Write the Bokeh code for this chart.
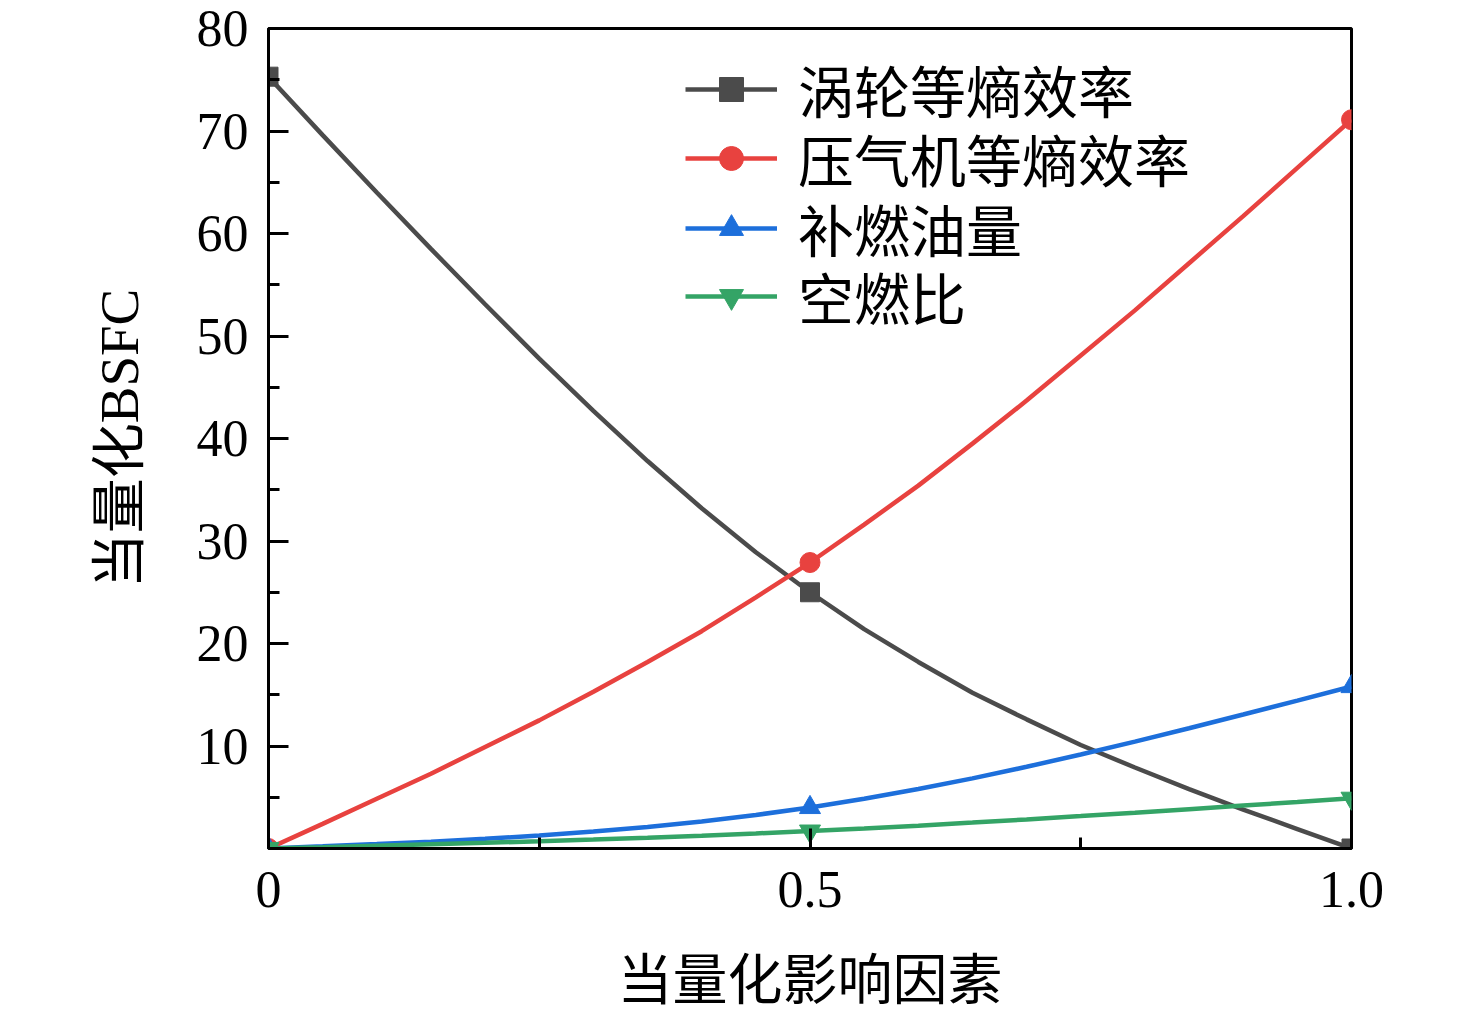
from bokeh.plotting import figure
from bokeh.models import Range1d, FixedTicker, Legend, LegendItem
from bokeh.embed import file_html
from bokeh.resources import INLINE

# ---- data ----
series_names = ["涡轮等熵效率", "压气机等熵效率", "补燃油量", "空燃比"]
x_curve = [0.0, 0.05, 0.1, 0.15, 0.2, 0.25, 0.3, 0.35, 0.4, 0.45, 0.5,
           0.55, 0.6, 0.65, 0.7, 0.75, 0.8, 0.85, 0.9, 0.95, 1.0]
turbine_curve = [75.3, 69.6, 64.0, 58.5, 53.1, 47.8, 42.7, 37.8, 33.2, 28.9, 25.0,
                 21.4, 18.2, 15.2, 12.6, 10.1, 7.9, 5.8, 3.8, 1.9, 0.0]
compressor_curve = [0.0, 2.4, 4.85, 7.3, 9.9, 12.5, 15.3, 18.2, 21.2, 24.5, 27.9,
                    31.6, 35.4, 39.5, 43.7, 48.1, 52.5, 57.1, 61.7, 66.4, 71.1]
fuel_curve = [0.0, 0.21, 0.43, 0.67, 0.94, 1.27, 1.65, 2.1, 2.64, 3.27, 4.0,
              4.85, 5.8, 6.84, 7.97, 9.17, 10.43, 11.73, 13.07, 14.43, 15.8]
afr_curve = [0.0, 0.13, 0.27, 0.41, 0.55, 0.71, 0.88, 1.06, 1.25, 1.47, 1.7,
             1.96, 2.23, 2.53, 2.84, 3.16, 3.49, 3.84, 4.19, 4.54, 4.9]

x_marks = [0.0, 0.5, 1.0]
turbine_marks = [75.3, 25.0, 0.0]
compressor_marks = [0.0, 27.9, 71.1]
fuel_marks = [0.0, 4.0, 15.8]
afr_marks = [0.0, 1.7, 4.9]

x_ticks = [0.0, 0.5, 1.0]
x_tick_labels = ["0", "0.5", "1.0"]
x_minor_ticks = [0.25, 0.75]
y_ticks = [10, 20, 30, 40, 50, 60, 70, 80]
y_minor_ticks = [5, 15, 25, 35, 45, 55, 65, 75]

x_title = "当量化影响因素"
y_title = "当量化BSFC"

colors = ["#4b4b4b", "#e8423f", "#1d6fdb", "#34a466"]
markers = ["square", "circle", "triangle", "inverted_triangle"]
marker_sizes = [19, 20, 21, 21]
legend_rows_y = [719, 650, 580, 512]

FONT = "'Liberation Serif', 'Noto Sans CJK SC'"

p = figure(width=1468, height=1014, output_backend="svg", toolbar_location=None,
           x_range=Range1d(0, 1), y_range=Range1d(0, 80),
           min_border_left=268, min_border_right=117, min_border_top=28, min_border_bottom=166)
p.background_fill_color = "white"
p.border_fill_color = "white"
p.xgrid.visible = False
p.ygrid.visible = False
p.outline_line_color = "black"
p.outline_line_width = 3
p.outline_line_alpha = 1.0

curves = [turbine_curve, compressor_curve, fuel_curve, afr_curve]
marks = [turbine_marks, compressor_marks, fuel_marks, afr_marks]
for name, cy, my, col, mk, ms, ly in zip(series_names, curves, marks, colors, markers,
                                         marker_sizes, legend_rows_y):
    lr = p.line(x_curve, cy, line_color=col, line_width=4.5)
    sr = p.scatter(x_marks, my, marker=mk, size=ms, fill_color=col, line_color=col)
    legend = Legend(items=[LegendItem(label=name, renderers=[lr, sr])], location=(417, ly))
    legend.background_fill_alpha = 0
    legend.border_line_alpha = 0
    legend.padding = 0
    legend.margin = 0
    legend.spacing = 0
    legend.glyph_width = 92
    legend.glyph_height = 60
    legend.label_standoff = 21
    legend.label_text_font = FONT
    legend.label_text_font_size = "56px"
    legend.label_text_color = "black"
    legend.label_height = 60
    p.add_layout(legend)

for ax in (p.xaxis[0], p.yaxis[0]):
    ax.axis_line_width = 3
    ax.axis_line_color = "black"
    ax.major_tick_line_width = 3
    ax.minor_tick_line_width = 3
    ax.major_tick_in = 20
    ax.major_tick_out = 0
    ax.minor_tick_in = 11
    ax.minor_tick_out = 0
    ax.major_label_text_font = FONT
    ax.major_label_text_font_size = "52px"
    ax.major_label_text_color = "black"
    ax.axis_label_text_font = FONT
    ax.axis_label_text_font_size = "55px"
    ax.axis_label_text_font_style = "normal"
    ax.axis_label_text_color = "black"

p.xaxis[0].ticker = FixedTicker(ticks=x_ticks, minor_ticks=x_minor_ticks)
p.xaxis[0].major_label_overrides = {t: l for t, l in zip(x_ticks, x_tick_labels)}
p.xaxis[0].major_label_standoff = 23
p.xaxis[0].axis_label = x_title
p.xaxis[0].axis_label_standoff = 40

p.yaxis[0].ticker = FixedTicker(ticks=y_ticks, minor_ticks=y_minor_ticks)
p.yaxis[0].major_label_standoff = 20
p.yaxis[0].axis_label = y_title
p.yaxis[0].axis_label_standoff = 44

open("out.html", "w").write(file_html(p, INLINE))
